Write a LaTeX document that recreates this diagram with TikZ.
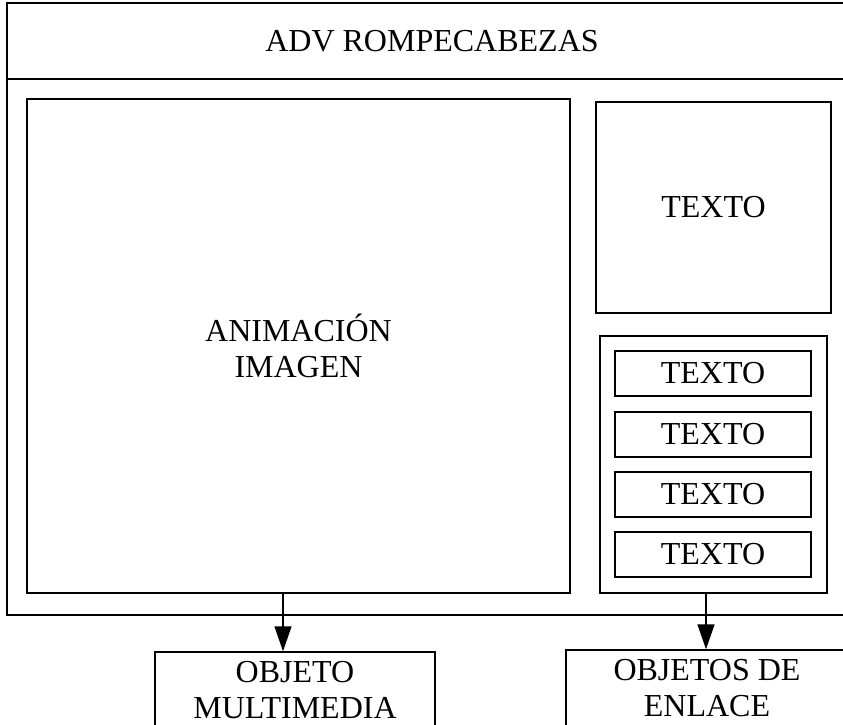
\documentclass[tikz,border=0pt]{standalone}
\usepackage{fontspec}
\setmainfont{Liberation Serif}
\usepackage{tikz}
\usetikzlibrary{arrows.meta,positioning,calc}

\begin{document}
\begin{tikzpicture}[
  x=1pt, y=-1pt,
  font=\fontsize{32}{36}\selectfont,
  every node/.style={align=center},
  frame/.style={draw=black,line width=1.6pt,inner sep=0pt},
  box/.style={draw=black,line width=1.5pt,inner sep=0pt},
  arr/.style={line width=1.5pt,-{Triangle[length=25pt,width=17pt]}}
]
\useasboundingbox (0,0) rectangle (843,725);
\clip (0,0) rectangle (843,725);

% Outer frame
\node[frame,minimum width=850pt,minimum height=76pt] (title) at (432,41) {ADV ROMPECABEZAS};
\node[frame,minimum width=850pt,minimum height=536pt] (screen) at (432,347) {};

% Content
\node[box,minimum width=543pt,minimum height=494pt] (anim) at (298.5,346) {ANIMACIÓN\\IMAGEN};
\node[box,minimum width=235pt,minimum height=211pt] (texto) at (713.5,207.5) {TEXTO};
\node[box,minimum width=227pt,minimum height=257pt] (links) at (713.5,464.5) {};
\node[box,minimum width=196pt,minimum height=45pt] (link1) at (713,373.5) {TEXTO};
\node[box,minimum width=196pt,minimum height=45pt] (link2) at (713,434.5) {TEXTO};
\node[box,minimum width=196pt,minimum height=45pt] (link3) at (713,494.5) {TEXTO};
\node[box,minimum width=196pt,minimum height=45pt] (link4) at (713,554.5) {TEXTO};

% Objects
\node[box,minimum width=280pt,minimum height=76pt] (multi) at (295,690) {OBJETO\\MULTIMEDIA};
\node[box,minimum width=282pt,minimum height=76pt] (enlace) at (707,688) {OBJETOS DE\\ENLACE};

\draw[arr] ([xshift=-15.5pt]anim.south) -- ([xshift=-12pt]multi.north);
\draw[arr] ([xshift=-7.5pt]links.south) -- ([xshift=-1pt]enlace.north);
\end{tikzpicture}
\end{document}
